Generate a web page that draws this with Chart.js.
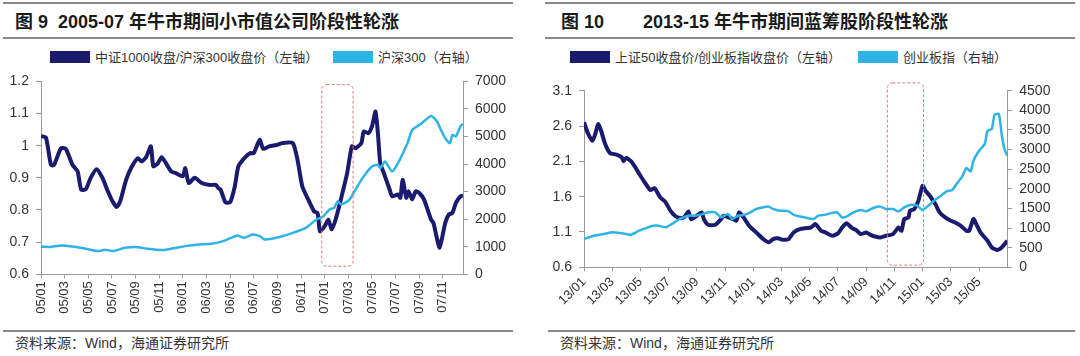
<!DOCTYPE html>
<html><head><meta charset="utf-8">
<script src="https://cdn.jsdelivr.net/npm/chart.js@4"></script>
<style>
body{margin:0;background:#fff;}
#page{position:relative;width:1080px;height:356px;overflow:hidden;font-family:'Liberation Sans','Noto Sans CJK SC',sans-serif;color:#222;background:#fff}
.rule{position:absolute;height:2px;background:#8a8a8a}
.title{position:absolute;top:11px;font-size:18px;font-weight:bold;white-space:pre;line-height:22px;color:#1a1a1a}
.leg{position:absolute;top:50px;font-size:13px;line-height:15px;color:#333;white-space:pre}
.sw{position:absolute;top:51px;width:40px;height:12px}
.src{position:absolute;top:335px;font-size:14px;line-height:17px;color:#333;white-space:pre}
canvas{position:absolute;top:66px}
</style>
</head><body>
<div id="page">
  <div class="rule" style="left:3px;top:2px;width:510px"></div>
  <div class="rule" style="left:3px;top:37px;width:510px"></div>
  <div class="title" style="left:15px">图 9  2005-07 年牛市期间小市值公司阶段性轮涨</div>
  <div class="sw" style="left:50px;background:#1a1a6e"></div>
  <div class="leg" style="left:95px">中证1000收盘/沪深300收盘价（左轴）</div>
  <div class="sw" style="left:333px;background:#2db3e6"></div>
  <div class="leg" style="left:378px">沪深300（右轴）</div>
  <canvas id="c1" width="530" height="264" style="left:0;width:530px;height:264px"></canvas>
  <div class="rule" style="left:3px;top:330px;width:510px"></div>
  <div class="src" style="left:15px">资料来源：Wind，海通证券研究所</div>

  <div class="rule" style="left:545px;top:2px;width:530px"></div>
  <div class="rule" style="left:545px;top:37px;width:530px"></div>
  <div class="title" style="left:561px">图 10</div>
  <div class="title" style="left:643px">2013-15 年牛市期间蓝筹股阶段性轮涨</div>
  <div class="sw" style="left:570px;background:#1a1a6e"></div>
  <div class="leg" style="left:615px">上证50收盘价/创业板指收盘价（左轴）</div>
  <div class="sw" style="left:858px;background:#2db3e6"></div>
  <div class="leg" style="left:903px">创业板指（右轴）</div>
  <canvas id="c2" width="540" height="264" style="left:540px;width:540px;height:264px"></canvas>
  <div class="rule" style="left:548px;top:330px;width:527px"></div>
  <div class="src" style="left:560px">资料来源：Wind，海通证券研究所</div>
</div>
<script>
// ---------- Figure 9 (2005-07) : x = months since 2005/01 ----------
const xLabels9 = ['05/01','05/03','05/05','05/07','05/09','05/11','06/01','06/03','06/05','06/07','06/09','06/11','07/01','07/03','07/05','07/07','07/09','07/11'];
const yLeftTicks9 = [0.6,0.7,0.8,0.9,1.0,1.1,1.2];
const yLeftLabels9 = ['0.6','0.7','0.8','0.9','1','1.1','1.2'];
const yRightTicks9 = [0,1000,2000,3000,4000,5000,6000,7000];
const yRightLabels9 = ['0','1000','2000','3000','4000','5000','6000','7000'];
const ratioMonths9 = [0,0.42,0.84,1.1,1.69,2.1,2.67,3.1,3.4,3.8,4.2,4.7,5.2,5.6,6.05,6.4,6.7,7.2,7.7,8.2,8.5,8.9,9.3,9.5,9.9,10.2,10.5,11,11.4,12,12.2,12.5,13,13.6,14.3,14.8,15,15.2,15.6,16,16.4,16.7,17.3,17.7,18,18.5,18.8,19.3,20,20.4,21.3,21.7,22.1,22.6,23.1,23.4,23.6,24,24.3,24.6,25,25.5,25.9,26.3,26.6,27.1,27.3,27.7,28,28.3,28.5,28.7,29,29.5,29.7,30.2,30.4,30.6,30.9,31.1,31.4,31.7,32,32.4,33,33.2,33.45,33.7,33.9,34.2,34.5,34.8,35.1,35.5,35.7];
const ratioValues9 = [1.03,1.025,0.94,0.94,0.992,0.99,0.94,0.92,0.863,0.865,0.9,0.927,0.9,0.863,0.827,0.809,0.827,0.894,0.936,0.961,0.951,0.965,0.998,0.936,0.946,0.964,0.95,0.92,0.915,0.905,0.93,0.884,0.9,0.884,0.878,0.878,0.868,0.863,0.824,0.824,0.874,0.936,0.965,0.977,0.977,1.018,0.99,0.998,1.003,1.008,1.008,0.956,0.874,0.833,0.796,0.79,0.734,0.75,0.77,0.74,0.78,0.853,0.915,0.998,0.992,1.008,1.044,1.039,1.06,1.106,1.039,0.946,0.915,0.863,0.843,0.848,0.838,0.894,0.838,0.858,0.833,0.858,0.853,0.833,0.77,0.76,0.719,0.683,0.708,0.76,0.786,0.791,0.822,0.843,0.845];
const hs300Months9 = [0,0.8,1.7,2.8,3.8,4.8,5.4,6.1,7.1,8.2,9,10.2,11,12.2,13.3,14.4,15.4,16.1,16.6,17.2,17.9,18.5,18.9,19.9,21.3,22.4,23.3,23.9,24.4,24.8,25.1,25.4,26.1,26.6,27.3,28,28.5,28.7,29.1,29.7,30.2,31,31.4,31.8,32.2,33,33.5,33.9,34.2,34.6,34.8,35.1,35.5,35.7];
const hs300Values9 = [998,995,1048,998,926,842,890,842,962,986,926,878,926,1022,1084,1106,1204,1324,1410,1324,1446,1386,1265,1325,1505,1686,1988,2108,2350,2410,2650,2530,2711,3073,3554,3915,3976,3855,4096,3735,4036,4758,5242,5362,5483,5748,5543,5181,4940,4758,5060,5000,5387,5450];
const highlight9 = [23.75, 26.4, 0.625, 1.19]; // x from, x to, y from, y to (left-axis units)

// ---------- Figure 10 (2013-15) : x = months since 2013/01 ----------
const xLabels10 = ['13/01','13/03','13/05','13/07','13/09','13/11','14/01','14/03','14/05','14/07','14/09','14/11','15/01','15/03','15/05'];
const yLeftTicks10 = [0.6,1.1,1.6,2.1,2.6,3.1];
const yLeftLabels10 = ['0.6','1.1','1.6','2.1','2.6','3.1'];
const yRightTicks10 = [0,500,1000,1500,2000,2500,3000,3500,4000,4500];
const yRightLabels10 = ['0','500','1000','1500','2000','2500','3000','3500','4000','4500'];
const ratioMonths10 = [0,0.3,0.6,0.8,1,1.2,1.5,1.84,2.3,2.67,2.8,3,3.4,3.85,4.3,4.7,5,5.4,5.75,6.1,6.44,6.8,7.1,7.4,7.6,8,8.33,8.5,8.8,9.3,9.7,9.9,10.2,10.6,10.8,11,11.3,11.7,12.2,12.7,13.1,13.4,13.75,14.1,14.5,14.86,15.3,15.8,16.1,16.4,16.8,17.1,17.6,18,18.3,18.6,19,19.3,19.6,20,20.3,20.7,21,21.4,21.9,22.3,22.5,22.7,23,23.1,23.4,23.7,24,24.2,24.5,24.9,25.2,25.6,26,26.3,26.7,27.1,27.3,27.6,27.8,28.1,28.6,28.9,29.3,29.6,30];
const ratioValues10 = [2.652,2.487,2.39,2.487,2.628,2.54,2.345,2.218,2.195,2.157,2.1,2.15,2.086,1.944,1.803,1.694,1.72,1.59,1.53,1.41,1.33,1.297,1.31,1.392,1.28,1.33,1.378,1.28,1.202,1.202,1.28,1.33,1.31,1.28,1.26,1.378,1.31,1.188,1.094,1.0,0.953,1.0,1.01,0.99,1.0,1.094,1.141,1.155,1.165,1.212,1.117,1.094,1.046,1.08,1.165,1.222,1.155,1.127,1.07,1.094,1.06,1.032,1.023,1.046,1.07,1.165,1.117,1.283,1.306,1.4,1.424,1.542,1.755,1.684,1.613,1.495,1.378,1.306,1.259,1.235,1.188,1.117,1.117,1.283,1.212,1.094,0.975,0.881,0.844,0.881,0.975];
const gemMonths10 = [0,0.7,1.4,2,2.7,3.3,3.9,4.4,4.9,5.3,5.8,6.3,6.8,7.4,7.9,8.4,8.8,9.3,9.7,10.2,10.5,10.9,11.4,11.8,12.2,12.7,13.1,13.4,13.9,14.5,14.9,15.6,16.3,16.6,17.1,17.9,18.3,18.6,19.1,19.6,20,20.5,21,21.4,21.9,22.3,22.7,23.2,23.6,24,24.4,24.8,25.3,25.7,26.1,26.4,26.8,27.1,27.4,27.6,28,28.4,28.6,28.9,29.1,29.4,29.6,29.8,30];
const gemValues10 = [721,805,848,892,866,831,933,1000,1060,1060,1018,1121,1231,1315,1315,1358,1401,1401,1274,1358,1231,1315,1340,1401,1486,1529,1546,1486,1443,1426,1330,1274,1231,1315,1341,1401,1274,1290,1401,1460,1426,1511,1546,1486,1486,1426,1529,1595,1570,1460,1570,1697,1824,1936,1970,2122,2309,2530,2445,2716,2971,3142,3481,3524,3888,3905,3396,3014,2844];
const highlight10 = [21.5, 24.06, 0.63, 3.21];

const DARK = '#1a1a6e', LIGHT = '#2db3e6', AXIS = '#9a9a9a', TICKTXT = '#333';
Chart.defaults.font.family = "'Liberation Sans','Noto Sans CJK SC',sans-serif";

const zip = (xs, ys) => xs.map((x, i) => ({x, y: ys[i]}));

const boxPlugin = {
  id: 'hlbox',
  afterDatasetsDraw(chart, args, opts) {
    const b = opts.box; if (!b) return;
    const {ctx, scales} = chart;
    const x0 = scales.x.getPixelForValue(b[0]), x1 = scales.x.getPixelForValue(b[1]);
    const y0 = scales.yL.getPixelForValue(b[3]), y1 = scales.yL.getPixelForValue(b[2]);
    ctx.save();
    ctx.strokeStyle = '#e07b7b'; ctx.lineWidth = 1; ctx.setLineDash([3, 2]);
    ctx.beginPath();
    if (ctx.roundRect) ctx.roundRect(x0, y0, x1 - x0, y1 - y0, 5); else ctx.rect(x0, y0, x1 - x0, y1 - y0);
    ctx.stroke();
    ctx.restore();
  }
};

function build(id, o) {
  const gridOpt = {drawOnChartArea: false, drawTicks: true, tickLength: 5, color: AXIS};
  new Chart(document.getElementById(id), {
    type: 'line',
    data: {datasets: [
      {label: o.darkLabel, data: zip(o.darkX, o.darkY), yAxisID: 'yL', borderColor: DARK, backgroundColor: DARK, borderWidth: 4, pointRadius: 0, tension: 0.2, order: 2},
      {label: o.lightLabel, data: zip(o.lightX, o.lightY), yAxisID: 'yR', borderColor: LIGHT, backgroundColor: LIGHT, borderWidth: 2.5, pointRadius: 0, tension: 0.2, order: 1}
    ]},
    options: {
      responsive: false, animation: false,
      layout: {padding: {top: o.padTop, left: 0, right: 0, bottom: 0}},
      plugins: {legend: {display: false}, tooltip: {enabled: false}, hlbox: {box: o.box}},
      scales: {
        x: {type: 'linear', position: 'bottom', min: 0, max: o.xMax,
            afterBuildTicks: s => { s.ticks = o.xLabels.map((_, i) => ({value: i * 2})); },
            afterFit: s => { s.height = o.xHeight; },
            ticks: {autoSkip: false, minRotation: o.rot, maxRotation: o.rot, padding: 3, color: TICKTXT, font: {size: 13},
                    callback: v => o.xLabels[Math.round(v / 2)]},
            grid: {drawOnChartArea: false, drawTicks: true, tickLength: 4, color: AXIS}, border: {color: AXIS}},
        yL: {position: 'left', min: o.yL[0], max: o.yL[o.yL.length - 1],
            afterBuildTicks: s => { s.ticks = o.yL.map(v => ({value: v})); },
            afterFit: s => { s.width = o.yLW; },
            ticks: {autoSkip: false, padding: 7, color: TICKTXT, font: {size: 14}, callback: v => o.yLLab[o.yL.findIndex(t => Math.abs(t - v) < 1e-6)]},
            grid: gridOpt, border: {color: AXIS}},
        yR: {position: 'right', min: o.yR[0], max: o.yR[o.yR.length - 1],
            afterBuildTicks: s => { s.ticks = o.yR.map(v => ({value: v})); },
            afterFit: s => { s.width = o.yRW; },
            ticks: {autoSkip: false, padding: 7, color: TICKTXT, font: {size: 14}, callback: v => o.yRLab[o.yR.findIndex(t => Math.abs(t - v) < 1e-6)]},
            grid: gridOpt, border: {color: AXIS}}
      }
    },
    plugins: [boxPlugin]
  });
}

build('c1', {darkLabel: '中证1000收盘/沪深300收盘价（左轴）', lightLabel: '沪深300（右轴）',
  darkX: ratioMonths9, darkY: ratioValues9, lightX: hs300Months9, lightY: hs300Values9,
  xLabels: xLabels9, xMax: 35.7, rot: 90, xHeight: 55.7, padTop: 14.7,
  yL: yLeftTicks9, yLLab: yLeftLabels9, yR: yRightTicks9, yRLab: yRightLabels9, yLW: 41, yRW: 67, box: highlight9});

build('c2', {darkLabel: '上证50收盘价/创业板指收盘价（左轴）', lightLabel: '创业板指（右轴）',
  darkX: ratioMonths10, darkY: ratioValues10, lightX: gemMonths10, lightY: gemValues10,
  xLabels: xLabels10, xMax: 30, rot: 45, xHeight: 62.7, padTop: 24.7,
  yL: yLeftTicks10, yLLab: yLeftLabels10, yR: yRightTicks10, yRLab: yRightLabels10, yLW: 44, yRW: 72.7, box: highlight10});
</script>
</body></html>
